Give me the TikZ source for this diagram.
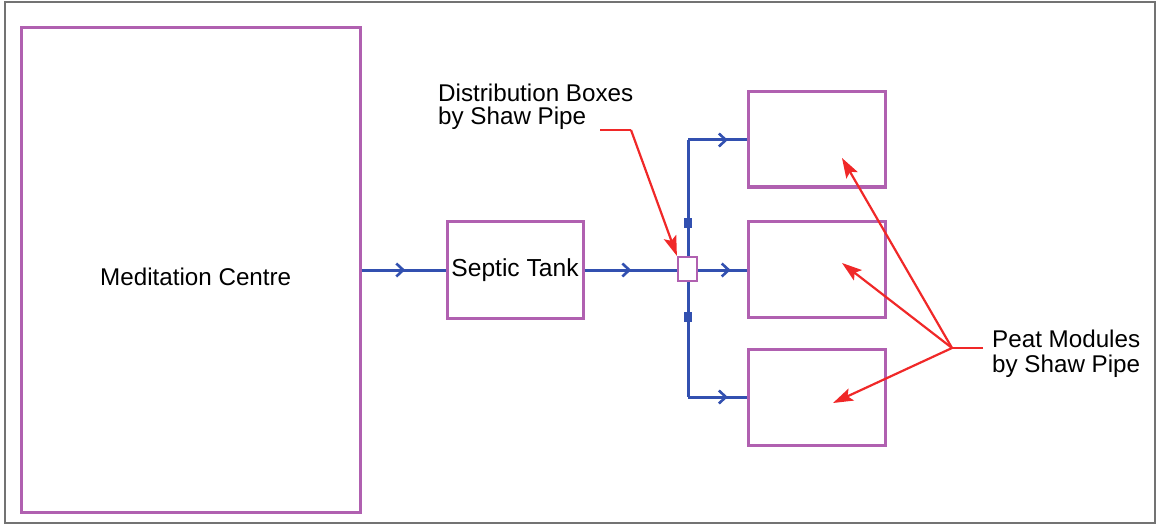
\documentclass[tikz,border=0pt]{standalone}
\usepackage{fontspec}
\setmainfont{Liberation Sans}
\usetikzlibrary{arrows.meta,decorations.markings}
\definecolor{boxpurple}{RGB}{176,96,176}
\definecolor{pipeblue}{RGB}{50,80,176}
\definecolor{ptrred}{RGB}{240,40,40}
\definecolor{framegray}{RGB}{115,115,115}
\tikzset{
  bx/.style={draw=boxpurple,line width=3pt,fill=white,inner sep=0pt,rectangle},
  lbl/.style={font=\fontsize{24.2}{23}\selectfont,inner sep=0pt,anchor=base west,text=black},
  pipe/.style={draw=pipeblue,line width=3pt},
  flow/.style={pipe,postaction={decorate},decoration={markings,mark=at position #1 with {\arrow[pipeblue,line width=2.6pt]{Straight Barb[length=7pt,width=13pt]}}}},
  flow/.default=0.55,
  ptr/.style={draw=ptrred,line width=2.2pt,-{Stealth[length=20pt,width=13pt,inset=4pt]}},
  ptrline/.style={draw=ptrred,line width=2.2pt},
  valve/.style={fill=pipeblue,inner sep=0pt,minimum width=8pt,minimum height=10pt}
}
\begin{document}
\begin{tikzpicture}[x=1pt,y=-1pt]
\useasboundingbox (0,0) rectangle (1157,524);
\draw[framegray,line width=2pt] (4.5,2.5) rectangle (1155,523);
% boxes
\node[bx,minimum width=339pt,minimum height=484pt] (mc) at (190.5,270) {};
\node[lbl] (mct) at (100,285) {Meditation Centre};
\node[bx,minimum width=136pt,minimum height=97pt,font=\fontsize{24.6}{23}\selectfont] (st) at (515,270) {Septic Tank};
\node[bx,minimum width=137pt,minimum height=95pt] (p1) at (816.5,139.5) {};
\node[bx,minimum width=137pt,minimum height=96pt] (p2) at (816.5,269) {};
\node[bx,minimum width=137pt,minimum height=96pt] (p3) at (816.5,397) {};
\coordinate (jt) at (688,140);
\coordinate (jb) at (688,397);
% pipes
\draw[flow=0.52] (mc.east |- 0,270) -- (st.west |- 0,270);
\draw[flow=0.5] (st.east |- 0,270) -- (678,270);
\draw[pipe] (jt) -- (jb);
\draw[flow=0.68] (jt) -- (p1.west |- jt);
\draw[flow=0.68] (697,270) -- (p2.west |- 0,270);
\draw[flow=0.68] (jb) -- (p3.west |- jb);
\node[bx,line width=2.2pt,minimum width=19pt,minimum height=24pt] (db) at (687.5,269) {};
\node[valve] (v1) at (688,223) {};
\node[valve] (v2) at (688,317) {};
% labels
\node[lbl] (dl1) at (438,102) {Distribution Boxes};
\node[lbl] (dl2) at (438,125) {by Shaw Pipe};
\node[lbl] (pl1) at (992,347) {Peat Modules};
\node[lbl] (pl2) at (992,372) {by Shaw Pipe};
% pointers
\coordinate (dp0) at (600,130);
\coordinate (dp1) at (631,130);
\draw[ptrline] (dp0) -- (dp1);
\draw[ptr] (dp1) -- (db.north west);
\coordinate (pp0) at (983,348);
\coordinate (pp1) at (952,348);
\coordinate (pa1) at (842,158);
\coordinate (pa2) at (842,263);
\coordinate (pa3) at (833,403);
\draw[ptrline] (pp0) -- (pp1);
\draw[ptr] (pp1) -- (pa1);
\draw[ptr] (pp1) -- (pa2);
\draw[ptr] (pp1) -- (pa3);
\end{tikzpicture}
\end{document}
